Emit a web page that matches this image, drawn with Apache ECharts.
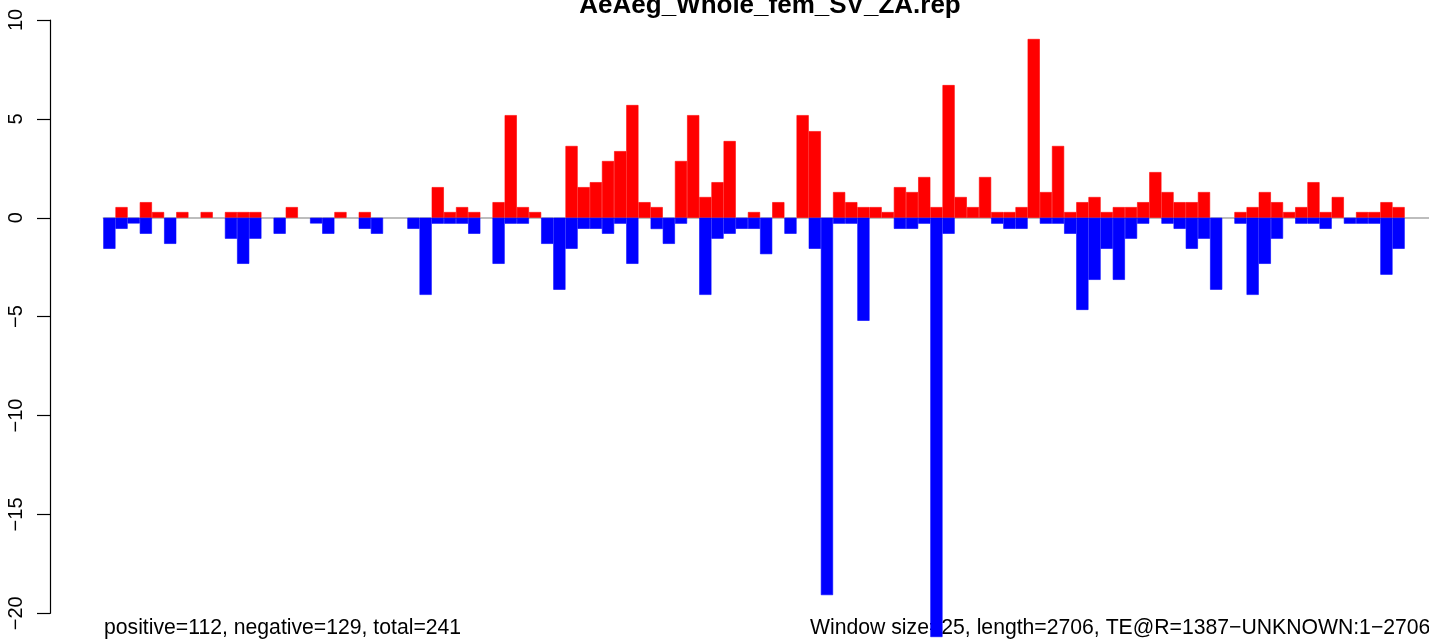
<!DOCTYPE html>
<html>
<head>
<meta charset="utf-8">
<script src="https://cdn.jsdelivr.net/npm/echarts@6/dist/echarts.min.js"></script>
<style>
html,body{margin:0;padding:0;background:#ffffff;}
#chart{width:1429px;height:641px;}
</style>
</head>
<body>
<div id="chart"></div>
<script>
// ---- data ----
const titleText = "AeAeg_Whole_fem_SV_ZA.rep";
const noteLeft = "positive=112, negative=129, total=241";
const noteRight = "Window size=25, length=2706, TE@R=1387\u2212UNKNOWN:1\u22122706";

// one value per 25 bp window (107 windows drawn)
const positiveValues = [
  0, 0.54, 0, 0.79, 0.29, 0, 0.29, 0, 0.29, 0,
  0.29, 0.29, 0.29, 0, 0, 0.54, 0, 0, 0, 0.29,
  0, 0.29, 0, 0, 0, 0, 0, 1.55, 0.29, 0.54,
  0.29, 0, 0.79, 5.19, 0.54, 0.29, 0, 0, 3.63, 1.55,
  1.80, 2.87, 3.37, 5.70, 0.79, 0.54, 0, 2.87, 5.19, 1.05,
  1.80, 3.88, 0, 0.29, 0, 0.79, 0, 5.19, 4.38, 0,
  1.30, 0.79, 0.54, 0.54, 0.29, 1.55, 1.30, 2.06, 0.54, 6.71,
  1.05, 0.54, 2.06, 0.29, 0.29, 0.54, 9.04, 1.30, 3.63, 0.29,
  0.79, 1.05, 0.29, 0.54, 0.54, 0.79, 2.31, 1.30, 0.79, 0.79,
  1.30, 0, 0, 0.29, 0.54, 1.30, 0.79, 0.29, 0.54, 1.80,
  0.29, 1.05, 0, 0.29, 0.29, 0.79, 0.54
];
const negativeValues = [
  -1.57, -0.56, -0.29, -0.81, 0, -1.32, 0, 0, 0, 0,
  -1.06, -2.33, -1.06, 0, -0.81, 0, 0, -0.29, -0.81, 0,
  0, -0.56, -0.81, 0, 0, -0.56, -3.90, -0.30, -0.30, -0.30,
  -0.81, 0, -2.33, -0.30, -0.30, 0, -1.32, -3.64, -1.57, -0.56,
  -0.56, -0.81, -0.30, -2.33, 0, -0.57, -1.32, -0.30, 0, -3.90,
  -1.06, -0.81, -0.56, -0.56, -1.84, 0, -0.81, 0, -1.57, -19.08,
  -0.30, -0.30, -5.21, 0, 0, -0.56, -0.56, -0.30, -21.2, -0.81,
  0, 0, 0, -0.30, -0.56, -0.56, 0, -0.30, -0.30, -0.81,
  -4.66, -3.14, -1.57, -3.14, -1.06, -0.30, 0, -0.30, -0.56, -1.57,
  -1.06, -3.64, 0, -0.30, -3.90, -2.33, -1.06, 0, -0.30, -0.30,
  -0.56, 0, -0.30, -0.30, -0.30, -2.88, -1.57
];
// window labels (two trailing empty windows fill the plot to its right edge)
const windowLabels = positiveValues.map((_, i) => "w" + (i + 1)).concat(["w108", "w109"]);
const yMin = -20, yMax = 10, yInterval = 5;

// empty windows draw nothing
const asBarData = arr => arr.map(v => (v === 0 ? '-' : v));

const FONT = '"Liberation Sans", Arial, Helvetica, sans-serif';
const chart = echarts.init(document.getElementById('chart'), null, {renderer: 'canvas'});
chart.setOption({
  animation: false,
  backgroundColor: '#ffffff',
  grid: {left: 103.3, top: 20, width: 1329.1, height: 593.3, containLabel: false},
  xAxis: {
    type: 'category',
    data: windowLabels,
    boundaryGap: true,
    axisLine: {show: true, onZero: true, lineStyle: {color: '#a8a8a8', width: 1.5}},
    axisTick: {show: false},
    axisLabel: {show: false},
    splitLine: {show: false}
  },
  yAxis: {
    type: 'value',
    min: yMin, max: yMax, interval: yInterval,
    offset: 53.3,
    axisLine: {show: true, lineStyle: {color: '#000000', width: 1.2}},
    axisTick: {show: true, length: 13, lineStyle: {color: '#000000', width: 1.2}},
    axisLabel: {
      rotate: 90, margin: 24, fontSize: 20, color: '#000000', fontFamily: FONT,
      formatter: v => (v < 0 ? '\u2212' + Math.abs(v) : String(v))
    },
    splitLine: {show: false}
  },
  series: [
    {
      type: 'bar', name: 'positive', data: asBarData(positiveValues), z: 5,
      barWidth: '100%', barCategoryGap: 0, clip: false, silent: true,
      itemStyle: {color: '#ff0000', borderColor: '#ff0000', borderWidth: 0.6}
    },
    {
      type: 'bar', name: 'negative', data: asBarData(negativeValues), z: 5,
      barWidth: '100%', barGap: '-100%', barCategoryGap: 0, clip: false, silent: true,
      itemStyle: {color: '#0000ff', borderColor: '#0000ff', borderWidth: 0.6}
    }
  ],
  graphic: [
    {type: 'text', x: 770, y: 6, z: 1, silent: true,
     style: {text: titleText, font: 'bold 26px ' + FONT, fill: '#000000',
             align: 'center', verticalAlign: 'middle', textAlign: 'center', textVerticalAlign: 'middle'}},
    {type: 'text', x: 104, y: 628, z: 1, silent: true,
     style: {text: noteLeft, font: '21.2px ' + FONT, fill: '#000000',
             align: 'left', verticalAlign: 'middle', textAlign: 'left', textVerticalAlign: 'middle'}},
    {type: 'text', x: 810, y: 628, z: 1, silent: true,
     style: {text: noteRight, font: '21.2px ' + FONT, fill: '#000000',
             align: 'left', verticalAlign: 'middle', textAlign: 'left', textVerticalAlign: 'middle'}}
  ]
});
</script>
</body>
</html>
